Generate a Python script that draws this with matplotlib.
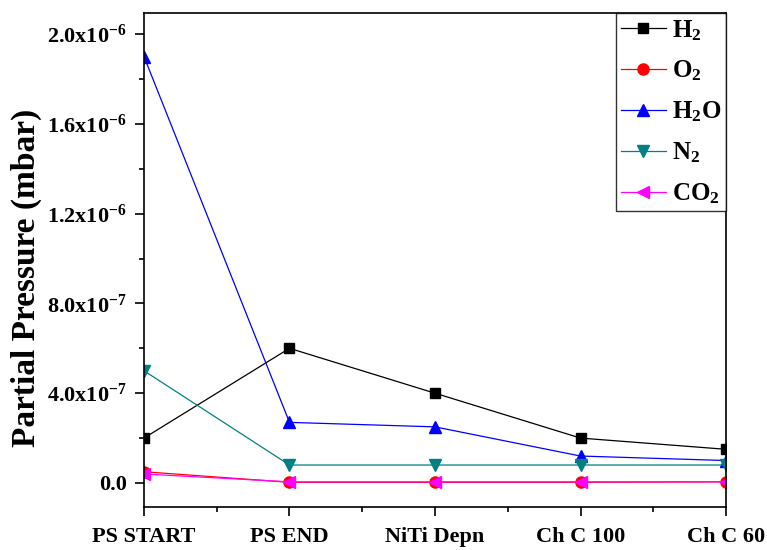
import matplotlib
matplotlib.use("Agg")
import matplotlib.pyplot as plt
from matplotlib.ticker import FixedLocator, MultipleLocator

plt.rcParams['font.family'] = ['Liberation Serif', 'DejaVu Serif']
plt.rcParams['font.weight'] = 'bold'
plt.rcParams['mathtext.fontset'] = 'custom'
plt.rcParams['mathtext.rm'] = 'Liberation Serif:bold'
plt.rcParams['mathtext.it'] = 'Liberation Serif:bold'
plt.rcParams['mathtext.bf'] = 'Liberation Serif:bold'

stages = ['PS START', 'PS END', 'NiTi Depn', 'Ch C 100', 'Ch C 60']

# partial pressures in mbar
h2 = [2.0e-7, 6.0e-7, 4.0e-7, 2.0e-7, 1.5e-7]
o2 = [5.0e-8, 3.0e-9, 3.0e-9, 3.0e-9, 5.0e-9]
h2o = [1.9e-6, 2.7e-7, 2.5e-7, 1.2e-7, 1.0e-7]
n2 = [5.0e-7, 8.0e-8, 8.0e-8, 8.0e-8, 8.0e-8]
co2 = [4.0e-8, 5.0e-9, 5.0e-9, 5.0e-9, 5.0e-9]

y_ticks = [0, 4e-7, 8e-7, 1.2e-6, 1.6e-6, 2.0e-6]
y_tick_labels = ['0.0', '4.0x10$^{-7}$', '8.0x10$^{-7}$', '1.2x10$^{-6}$',
                 '1.6x10$^{-6}$', '2.0x10$^{-6}$']

fig = plt.figure(figsize=(7.67, 5.5), dpi=100)
ax = fig.add_axes([0.1877, 0.0782, 0.7589, 0.8982])

x = range(len(stages))
lw = 0.9
ax.plot(x, h2, color='black', marker='s', markersize=7.5, lw=lw, label='H$_2$')
ax.plot(x, o2, color='red', marker='o', markersize=8, lw=lw, label='O$_2$')
ax.plot(x, h2o, color='blue', marker='^', markersize=9, lw=lw, label='H$_2$O')
ax.plot(x, n2, color='#008080', marker='v', markersize=9, lw=lw, label='N$_2$')
ax.plot(x, co2, color='magenta', marker='<', markersize=9, lw=lw, label='CO$_2$')

ax.set_xlim(0, 4)
ax.set_ylim(-1.07e-7, 2.094e-6)
ax.set_xticks(list(x))
ax.set_xticklabels(stages, fontsize=16, fontweight='bold')
ax.xaxis.set_minor_locator(MultipleLocator(0.5))
ax.yaxis.set_major_locator(FixedLocator(y_ticks))
ax.set_yticklabels(y_tick_labels, fontsize=16)
ax.yaxis.set_minor_locator(MultipleLocator(2e-7))

ax.tick_params(which='major', direction='out', length=6.5, width=1.2,
               top=False, right=False, pad=6)
ax.tick_params(axis='x', which='major', pad=8)
ax.tick_params(which='minor', direction='out', length=3.5, width=1.2,
               top=False, right=False)
for spine in ax.spines.values():
    spine.set_linewidth(1.2)

ax.set_ylabel('Partial Pressure (mbar)', fontsize=24, fontweight='bold')
ax.yaxis.set_label_coords(-0.175, 0.464)

leg = ax.legend(loc='upper right', fontsize=18, frameon=True, fancybox=False,
                edgecolor='black', borderaxespad=0, handlelength=1.8,
                labelspacing=0.65, borderpad=0.2, handletextpad=0.24)
leg.get_frame().set_linewidth(1.0)

fig.savefig('out.png', dpi=100)
